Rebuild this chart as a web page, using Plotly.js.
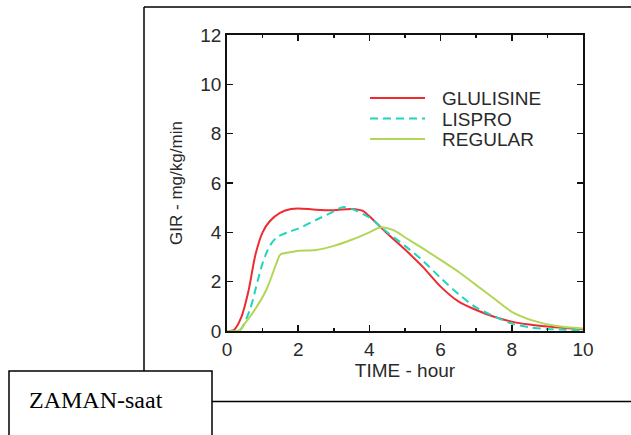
<!DOCTYPE html>
<html>
<head>
<meta charset="utf-8">
<script src="https://cdn.plot.ly/plotly-3.0.1.min.js"></script>
<style>
html,body{margin:0;padding:0;background:#fff;}
#chart{width:631px;height:435px;}
</style>
</head>
<body>
<div id="chart"></div>
<script>
// ---- data ----
const glulisineT = [0, 0.2, 0.4, 0.6, 0.8, 1.0, 1.2, 1.5, 1.8, 2.0, 2.5, 3.0, 3.5, 3.8, 4.0, 4.5, 5.0, 5.5, 6.0, 6.5, 7.0, 7.5, 8.0, 8.5, 9.0, 9.5, 10];
const glulisineY = [0, 0.05, 0.55, 1.6, 3.1, 4.0, 4.45, 4.8, 4.95, 4.97, 4.92, 4.9, 4.95, 4.88, 4.65, 3.95, 3.3, 2.6, 1.8, 1.2, 0.85, 0.58, 0.38, 0.26, 0.18, 0.12, 0.07];

const lisproT = [0, 0.35, 0.64, 0.82, 1.0, 1.2, 1.4, 1.7, 2.0, 2.5, 3.0, 3.25, 3.5, 4.0, 4.5, 5.0, 5.5, 6.0, 6.5, 7.0, 7.5, 8.0, 8.5, 9.0, 9.5, 10];
const lisproY = [0, 0.02, 0.85, 1.8, 2.75, 3.45, 3.8, 4.0, 4.15, 4.5, 4.85, 5.02, 4.95, 4.6, 4.0, 3.45, 2.85, 2.15, 1.5, 0.95, 0.6, 0.3, 0.15, 0.08, 0.05, 0.03];

const regularT = [0, 0.35, 0.5, 0.73, 1.1, 1.39, 1.5, 1.8, 2.0, 2.5, 3.0, 3.5, 4.0, 4.3, 4.66, 5.04, 5.5, 6.0, 6.5, 7.0, 7.5, 8.0, 8.6, 9.25, 10];
const regularY = [0, 0.02, 0.3, 0.75, 1.65, 2.75, 3.1, 3.2, 3.25, 3.28, 3.45, 3.7, 4.0, 4.2, 4.1, 3.76, 3.35, 2.88, 2.4, 1.86, 1.32, 0.78, 0.42, 0.2, 0.1];

const seriesNames = ["GLULISINE", "LISPRO", "REGULAR"];
const xTickVals = [0, 2, 4, 6, 8, 10];
const xTickText = ["0", "2", "4", "6", "8", "10"];
const yTickVals = [0, 2, 4, 6, 8, 10, 12];
const yTickText = ["0", "2", "4", "6", "8", "10", "12"];
const xTitle = "TIME - hour";
const yTitle = "GIR - mg/kg/min";
const boxLabel = "ZAMAN-saat";

// ---- chart ----
const F = "Liberation Sans, Arial, sans-serif";
const TXT = "#2a2a2a";
const styles = [
  {color: "#ee2b30", width: 2, shape: "spline", smoothing: 0.8},
  {color: "#1fd6bd", width: 2, dash: "8px,5px", shape: "spline", smoothing: 0.8},
  {color: "#b2d655", width: 2, shape: "spline", smoothing: 0.8}
];
const xs = [glulisineT, lisproT, regularT];
const ys = [glulisineY, lisproY, regularY];
const traces = seriesNames.map((n, i) => ({x: xs[i], y: ys[i], name: n, mode: "lines", line: styles[i], showlegend: false}));

// paper-coordinate helpers (plot area: 227..583 px wide, 35..331 px tall)
const px = v => (v - 227) / 356;
const py = v => (331 - v) / 296;

const shapes = [
  {type: "line", xref: "paper", yref: "paper", x0: px(144), x1: px(144), y0: py(7), y1: py(371), line: {color: "#000", width: 1.5}},
  {type: "line", xref: "paper", yref: "paper", x0: px(144), x1: px(640), y0: py(7), y1: py(7), line: {color: "#000", width: 1.5}},
  {type: "line", xref: "paper", yref: "paper", x0: px(212), x1: px(640), y0: py(401.5), y1: py(401.5), line: {color: "#000", width: 1.5}},
  {type: "rect", xref: "paper", yref: "paper", x0: px(9), x1: px(212), y0: py(371), y1: py(445), line: {color: "#000", width: 1.5}, fillcolor: "#fff"}
];
const annotations = [
  {xref: "paper", yref: "paper", x: px(27), y: py(400), xanchor: "left", yanchor: "middle",
   text: boxLabel, showarrow: false,
   font: {family: "Liberation Serif, Times New Roman, serif", size: 24, color: "#000"}}
];
// legend (key lines + labels)
const legendRows = [98, 118.5, 139];
seriesNames.forEach((n, i) => {
  const st = styles[i];
  shapes.push({type: "line", xref: "paper", yref: "paper", x0: px(370), x1: px(425),
    y0: py(legendRows[i]), y1: py(legendRows[i]),
    line: {color: st.color, width: 2, dash: st.dash || "solid"}});
  annotations.push({xref: "paper", yref: "paper", x: px(440), y: py(legendRows[i] + 0.5),
    xanchor: "left", yanchor: "middle", text: n, showarrow: false,
    font: {family: F, size: 19, color: TXT}});
});

const layout = {
  width: 631, height: 435,
  margin: {l: 227, r: 48, t: 35, b: 104, pad: 0},
  paper_bgcolor: "rgba(0,0,0,0)",
  plot_bgcolor: "rgba(0,0,0,0)",
  font: {family: F, size: 19, color: TXT},
  showlegend: false,
  xaxis: {
    range: [0, 10], tickvals: xTickVals, ticktext: xTickText,
    ticks: "inside", ticklen: 6, tickwidth: 1.5, tickcolor: "#111",
    showline: true, linecolor: "#111", linewidth: 1.8, mirror: "ticks",
    showgrid: false, zeroline: false,
    minor: {dtick: 1, ticks: "inside", ticklen: 3, tickwidth: 1.5, tickcolor: "#111", showgrid: false},
    tickfont: {family: F, size: 19, color: TXT},
    title: {text: xTitle, font: {family: F, size: 19, color: TXT}, standoff: 3}
  },
  yaxis: {
    range: [0, 12], tickvals: yTickVals, ticktext: yTickText,
    ticks: "inside", ticklen: 6, tickwidth: 1.5, tickcolor: "#111",
    showline: true, linecolor: "#111", linewidth: 1.8, mirror: "ticks",
    showgrid: false, zeroline: false,
    tickfont: {family: F, size: 19, color: TXT},
    title: {text: yTitle, font: {family: F, size: 17, color: TXT}, standoff: 13}
  },
  shapes: shapes,
  annotations: annotations
};

Plotly.newPlot("chart", traces, layout, {displayModeBar: false, staticPlot: true});
</script>
</body>
</html>
